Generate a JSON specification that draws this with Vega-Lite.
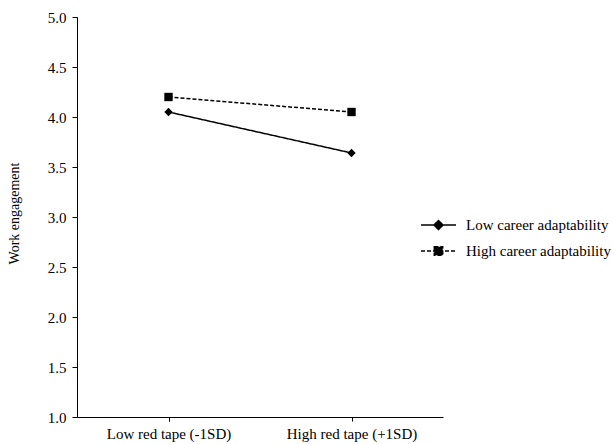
{
  "$schema": "https://vega.github.io/schema/vega-lite/v6.json",
  "width": 366,
  "height": 400,
  "autosize": {"type": "none"},
  "padding": {"left": 77, "top": 17, "right": 171, "bottom": 27},
  "background": "white",
  "config": {
    "font": "Liberation Serif",
    "view": {"stroke": null},
    "axis": {
      "domainColor": "black",
      "tickColor": "black",
      "labelColor": "black",
      "titleColor": "black",
      "labelFontSize": 15,
      "titleFontSize": 14,
      "titleFontWeight": "normal",
      "labelFont": "Liberation Serif",
      "titleFont": "Liberation Serif",
      "grid": false,
      "domainWidth": 1,
      "tickWidth": 1
    }
  },
  "data": {
    "values": [
      {"redtape": "Low red tape (-1SD)", "group": "Low career adaptability", "engagement": 4.05},
      {"redtape": "High red tape (+1SD)", "group": "Low career adaptability", "engagement": 3.64},
      {"redtape": "Low red tape (-1SD)", "group": "High career adaptability", "engagement": 4.2},
      {"redtape": "High red tape (+1SD)", "group": "High career adaptability", "engagement": 4.05}
    ]
  },
  "encoding": {
    "x": {
      "field": "redtape",
      "type": "nominal",
      "sort": ["Low red tape (-1SD)", "High red tape (+1SD)"],
      "scale": {"paddingInner": 0, "paddingOuter": 0},
      "axis": {"title": null, "labelAngle": 0, "bandPosition": 1, "tickExtra": true, "tickSize": 4, "labelPadding": 5}
    },
    "y": {
      "field": "engagement",
      "type": "quantitative",
      "scale": {"domain": [1, 5]},
      "axis": {
        "values": [1, 1.5, 2, 2.5, 3, 3.5, 4, 4.5, 5],
        "format": ".1f",
        "tickSize": 5,
        "labelPadding": 6,
        "title": "Work engagement",
        "titleX": -56,
        "titleY": 196
      }
    }
  },
  "layer": [
    {
      "mark": {"type": "line", "color": "black", "strokeWidth": 1.5},
      "encoding": {
        "strokeDash": {
          "field": "group",
          "type": "nominal",
          "sort": ["Low career adaptability", "High career adaptability"],
          "scale": {"range": [[1, 0], [4, 2]]},
          "legend": {
            "orient": "none",
            "legendX": 350.5,
            "legendY": 197,
            "title": null,
            "labelFontSize": 15,
            "labelColor": "black",
            "labelFont": "Liberation Serif",
            "labelOffset": 16.5,
            "symbolSize": 400,
            "symbolStrokeWidth": 1.5,
            "symbolStrokeColor": "black",
            "rowPadding": 7,
            "encode": {
              "symbols": {
                "update": {
                  "shape": {"signal": "datum.value === 'Low career adaptability' ? 'M-1.75,0H1.75M-0.45,0L0,-0.45L0.45,0L0,0.45Z' : 'M-1.75,0H1.75M-0.42,-0.42H0.42V0.42H-0.42Z'"},
                  "fill": {"value": "black"},
                  "stroke": {"value": "black"}
                }
              }
            }
          }
        }
      }
    },
    {
      "mark": {"type": "point", "filled": true, "color": "black", "opacity": 1, "size": 70},
      "encoding": {
        "shape": {
          "field": "group",
          "type": "nominal",
          "sort": ["Low career adaptability", "High career adaptability"],
          "scale": {"range": ["diamond", "square"]},
          "legend": null
        }
      }
    }
  ]
}
